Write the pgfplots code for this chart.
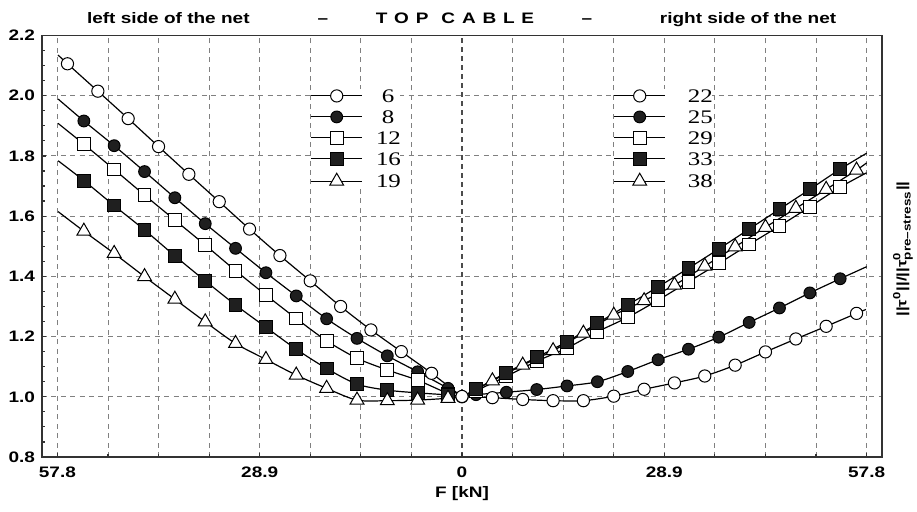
\documentclass[border=0pt]{standalone}
\usepackage{fontspec}
\setmainfont{Liberation Sans}[FakeStretch=1.25]
\newfontfamily\legfont{Liberation Serif}[FakeStretch=1.3]
\usepackage{pgfplots}
\usepackage{pgfplotstable}
\pgfplotsset{compat=1.18}

% ---------- data (x in kN: left side negative, right side positive) ----------
\pgfplotstableread{
x y
-57.7 2.135
-56.36 2.106
-52.02 2.015
-47.69 1.924
-43.35 1.831
-39.02 1.739
-34.68 1.648
-30.35 1.557
-26.01 1.469
-21.68 1.385
-17.34 1.300
-13.01 1.222
-8.67 1.150
-4.34 1.078
0 1.000
}\LsA
\pgfplotstableread{
x y
-57.7 1.989
-54.02 1.916
-49.69 1.834
-45.35 1.748
-41.02 1.661
-36.68 1.575
-32.35 1.493
-28.01 1.412
-23.68 1.335
-19.34 1.259
-15.00 1.194
-10.67 1.136
-6.34 1.083
-2.00 1.028
0 1.000
}\LsB
\pgfplotstableread{
x y
-57.7 1.908
-54.02 1.839
-49.69 1.755
-45.35 1.670
-41.02 1.587
-36.68 1.504
-32.35 1.419
-28.01 1.338
-23.68 1.260
-19.34 1.186
-15.00 1.128
-10.67 1.089
-6.34 1.055
-2.00 1.011
0 1.000
}\LsC
\pgfplotstableread{
x y
-57.7 1.784
-54.02 1.718
-49.69 1.635
-45.35 1.554
-41.02 1.468
-36.68 1.385
-32.35 1.305
-28.01 1.231
-23.68 1.158
-19.34 1.094
-15.00 1.042
-10.67 1.022
-6.34 1.013
-2.00 1.006
0 1.000
}\LsD
\pgfplotstableread{
x y
-57.7 1.615
-54.02 1.550
-49.69 1.476
-45.35 1.399
-41.02 1.324
-36.68 1.249
-32.35 1.177
-28.01 1.124
-23.68 1.072
-19.34 1.028
-15.00 0.989
-10.67 0.987
-6.34 0.989
-2.00 0.995
0 1.000
}\LsE
\pgfplotstableread{
x y
0 1.001
4.34 0.997
8.67 0.991
13.01 0.987
17.34 0.987
21.68 1.002
26.01 1.025
30.35 1.046
34.68 1.069
39.02 1.105
43.35 1.149
47.69 1.192
52.02 1.234
56.36 1.277
57.7 1.290
}\RsA
\pgfplotstableread{
x y
0 1.000
2.00 1.007
6.34 1.015
10.67 1.024
15.00 1.036
19.34 1.050
23.68 1.084
28.01 1.123
32.35 1.158
36.68 1.198
41.02 1.247
45.35 1.295
49.69 1.345
54.02 1.392
57.8 1.432
}\RsB
\pgfplotstableread{
x y
0 1.000
2.00 1.020
6.34 1.068
10.67 1.118
15.00 1.162
19.34 1.216
23.68 1.264
28.01 1.321
32.35 1.382
36.68 1.443
41.02 1.506
45.35 1.567
49.69 1.631
54.02 1.696
57.8 1.744
}\RsC
\pgfplotstableread{
x y
0 1.000
2.00 1.025
6.34 1.080
10.67 1.131
15.00 1.183
19.34 1.244
23.68 1.305
28.01 1.365
32.35 1.427
36.68 1.491
41.02 1.557
45.35 1.623
49.69 1.689
54.02 1.756
57.8 1.809
}\RsD
\pgfplotstableread{
x y
0 1.000
4.34 1.053
8.67 1.105
13.01 1.153
17.34 1.211
21.68 1.271
26.01 1.319
30.35 1.371
34.68 1.434
39.02 1.498
43.35 1.563
47.69 1.626
52.02 1.689
56.36 1.753
57.8 1.777
}\RsE

\pgfplotsset{
  base/.style={
    width=420pt, height=210.75pt, scale only axis,
    xmin=-60, xmax=60, ymin=0.8, ymax=2.2,
    legend image code/.code={\draw[mark repeat=2,mark phase=2,##1]
       plot coordinates {(0pt,0pt) (12.75pt,0pt) (25.5pt,0pt)};},
  },
  curve/.style={black, line width=0.6pt, smooth, no marks, forget plot},
  ocirc/.style={black, line width=0.5pt, mark=*, mark size=3.05pt, mark options={fill=white, solid}},
  fcirc/.style={black, line width=0.5pt, mark=*, mark size=2.95pt, mark options={fill=black!88, solid}},
  osq/.style={black, line width=0.5pt, mark=square*, mark size=3.2pt, mark options={fill=white, solid}},
  fsq/.style={black, line width=0.5pt, mark=square*, mark size=3.2pt, mark options={fill=black!88, solid}},
  otri/.style={black, line width=0.5pt, mark=triangle*, mark size=4pt, mark options={fill=white, solid}},
  legsty/.style={legend style={draw=none, fill=white, inner sep=0pt, outer sep=0pt,
      row sep=3.8pt, font=\legfont\fontsize{9.6}{9.6}\selectfont,
      nodes={inner sep=0pt, text height=6.7pt, text depth=0pt, text width=12pt, align=center}}},
}

\begin{document}
\begin{tikzpicture}
\useasboundingbox (-21pt,-27.5pt) rectangle (437.5pt,228.5pt);
\begin{axis}[base,
  /pgf/number format/assume math mode=true,
  axis line style={black!80, line width=0.85pt},
  xtick={-57.8,-28.9,28.9,57.8}, xticklabels={57.8,28.9,28.9,57.8},
  minor xtick={-50.575,-43.35,-36.125,-21.675,-14.45,-7.225,7.225,14.45,21.675,36.125,43.35,50.575},
  extra x ticks={0}, extra x tick labels={0},
  extra x tick style={major grid style={black!70, dash pattern=on 2.5pt off 2pt, line width=0.6pt}},
  ytick={0.8,1.0,1.2,1.4,1.6,1.8,2.0,2.2}, minor y tick num=3,
  yticklabel style={/pgf/number format/.cd, fixed, fixed zerofill, precision=1},
  xmajorgrids, xminorgrids, ymajorgrids,
  grid style={black!50, dash pattern=on 2.5pt off 2.2pt, line width=0.45pt},
  tick pos=left, tick align=inside, major tick length=2pt, minor tick length=1.5pt,
  tick style={black!80, line width=0.6pt},
  tick label style={font=\bfseries\fontsize{7.6}{8}\selectfont},
  xticklabel style={yshift=-1.6pt},
  legsty,
  legend style={at={(0.3199,0.8725)}, anchor=north west, column sep=6.65pt},
]
\addplot[curve] table {\LsA};
\addplot[curve] table {\LsB};
\addplot[curve] table {\LsC};
\addplot[curve] table {\LsD};
\addplot[curve] table {\LsE};
\addplot[ocirc, only marks, forget plot, restrict x to domain=-57.5:0.5] table {\LsA};
\addplot[fcirc, only marks, forget plot, restrict x to domain=-57.5:-0.5] table {\LsB};
\addplot[osq, only marks, forget plot, restrict x to domain=-57.5:-0.5] table {\LsC};
\addplot[fsq, only marks, forget plot, restrict x to domain=-57.5:-0.5] table {\LsD};
\addplot[otri, only marks, forget plot, restrict x to domain=-57.5:-0.5] table {\LsE};
\addlegendimage{ocirc}\addlegendentry{6}
\addlegendimage{fcirc}\addlegendentry{8}
\addlegendimage{osq}\addlegendentry{12}
\addlegendimage{fsq}\addlegendentry{16}
\addlegendimage{otri}\addlegendentry{19}
\end{axis}

\begin{axis}[base, hide axis,
  legsty,
  legend style={at={(0.6806,0.8725)}, anchor=north west, column sep=11.1pt},
]
\addplot[curve] table {\RsA};
\addplot[curve] table {\RsB};
\addplot[curve] table {\RsC};
\addplot[curve] table {\RsD};
\addplot[curve] table {\RsE};
\addplot[ocirc, only marks, forget plot, restrict x to domain=-0.5:57.5] table {\RsA};
\addplot[fcirc, only marks, forget plot, restrict x to domain=0.5:57.5] table {\RsB};
\addplot[osq, only marks, forget plot, restrict x to domain=0.5:57.5] table {\RsC};
\addplot[fsq, only marks, forget plot, restrict x to domain=0.5:57.5] table {\RsD};
\addplot[otri, only marks, forget plot, restrict x to domain=0.5:57.5] table {\RsE};
\addlegendimage{ocirc}\addlegendentry{22}
\addlegendimage{fcirc}\addlegendentry{25}
\addlegendimage{osq}\addlegendentry{29}
\addlegendimage{fsq}\addlegendentry{33}
\addlegendimage{otri}\addlegendentry{38}
\end{axis}

\begin{scope}[every node/.style={font=\bfseries\fontsize{7.6}{8}\selectfont, inner sep=0pt}]
\node[anchor=base] at (63.15pt,216.85pt) {left side of the net};
\node[anchor=base] at (140.5pt,216.85pt) {–};
\node[anchor=base] at (206.5pt,216.85pt) {T\hspace{3.4pt}O\hspace{3.4pt}P\hspace{6.5pt}C\hspace{3.4pt}A\hspace{3.4pt}B\hspace{3.4pt}L\hspace{3.4pt}E};
\node[anchor=base] at (272.5pt,216.85pt) {–};
\node[anchor=base] at (353pt,216.85pt) {right side of the net};
\node[anchor=center] at (210pt,-18.2pt) {F [kN]};
\node[anchor=center, rotate=90, font=\bfseries\fontsize{6.8}{8}\selectfont] at (430.5pt,104pt)
  {||τ$^{\mbox{\fontsize{5.2}{5}\selectfont 0}}$||/||τ$^{\mbox{\fontsize{5.2}{5}\selectfont 0}}_{\mbox{\fontsize{5.4}{5}\selectfont pre–stress}}$||};
\end{scope}
\end{tikzpicture}
\end{document}
